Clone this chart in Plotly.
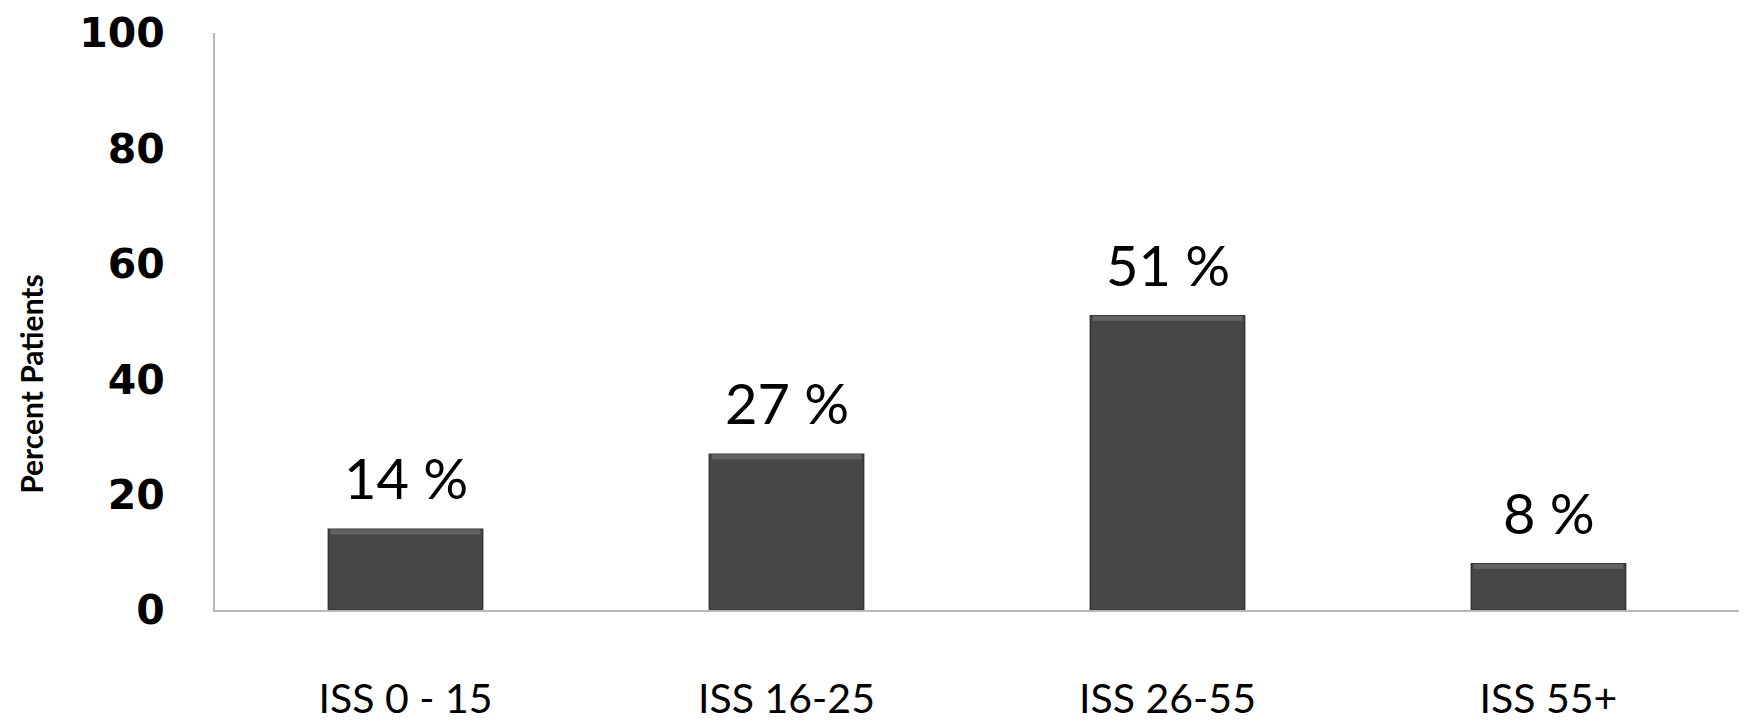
import plotly.graph_objects as go

# Injury Severity Score groups and share of patients in each
categories = ["ISS 0 - 15", "ISS 16-25", "ISS 26-55", "ISS 55+"]
percent_patients = [14, 27, 51, 8]
y_ticks = [0, 20, 40, 60, 80, 100]

BAR_WIDTH = 0.405
BEVEL = 0.9  # depth of the lighter top edge, in axis units

fig = go.Figure()

fig.add_trace(go.Bar(
    x=categories,
    y=percent_patients,
    marker=dict(color="#474747", line=dict(color="#333333", width=1.5)),
    width=BAR_WIDTH,
    hoverinfo="skip",
))

# lighter bevel strip along the top of each bar
fig.add_trace(go.Bar(
    x=categories,
    y=[BEVEL] * len(percent_patients),
    base=[v - BEVEL for v in percent_patients],
    marker=dict(color="#626262", line=dict(width=0)),
    width=BAR_WIDTH - 0.012,
    hoverinfo="skip",
))

# value labels above each bar
for cat, val in zip(categories, percent_patients):
    fig.add_annotation(
        x=cat, y=val, text=f"{val} %", showarrow=False,
        yanchor="bottom", yshift=16,
        font=dict(family="Lato", size=56, color="#000000"),
    )

# y-axis title
fig.add_annotation(
    xref="paper", yref="paper", x=0, y=0.392, xshift=-184,
    text="<b>Percent Patients</b>", textangle=-90, showarrow=False,
    xanchor="center", yanchor="middle",
    font=dict(family="Lato", size=30, color="#000000"),
)

fig.update_layout(
    width=1744, height=721,
    margin=dict(l=215, r=5, t=33, b=111),
    paper_bgcolor="white", plot_bgcolor="white",
    showlegend=False,
    barmode="overlay",
)

fig.update_xaxes(
    showline=True, linecolor="#b8b8b8", linewidth=2,
    showgrid=False, ticks="", automargin=False,
    tickfont=dict(family="Lato", size=41, color="#000000"),
    ticklabelstandoff=52,
)

fig.update_yaxes(
    range=[0, 100], tickvals=y_ticks,
    showline=True, linecolor="#b8b8b8", linewidth=2,
    showgrid=False, zeroline=False, ticks="", automargin=False,
    tickfont=dict(family="DejaVu Sans", size=41, color="#000000", weight="bold"),
    ticklabelstandoff=40,
)

fig.write_html("out.html")
